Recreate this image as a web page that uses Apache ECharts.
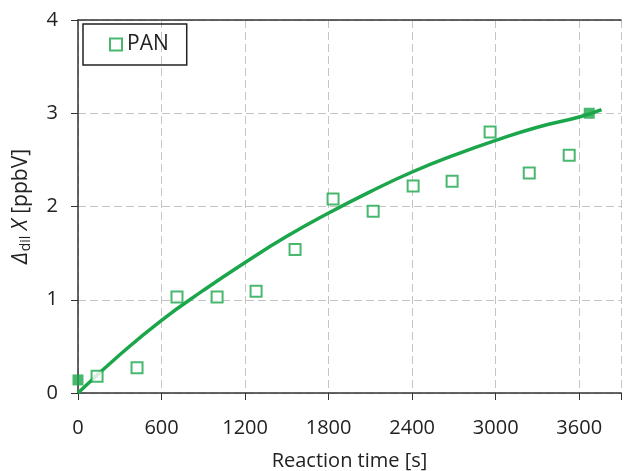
<!DOCTYPE html>
<html>
<head>
<meta charset="utf-8">
<script src="https://cdn.jsdelivr.net/npm/echarts@6/dist/echarts.min.js"></script>
<style>
html, body { margin: 0; padding: 0; background: #fff; }
#main { width: 624px; height: 471px; }
</style>
</head>
<body>
<div id="main"></div>
<script>
// measured PAN points (time [s], ppbV)
const panTime = [137, 424, 711, 999, 1279, 1559, 1832, 2120, 2407, 2687, 2960, 3241, 3528]
const panValue = [0.18, 0.27, 1.03, 1.03, 1.09, 1.54, 2.08, 1.95, 2.22, 2.27, 2.80, 2.36, 2.55]

// filled end points
const endTime = [0, 3672]
const endValue = [0.14, 3.0]

// fitted curve
const fitTime = [0, 300, 600, 900, 1200, 1500, 1800, 2100, 2400, 2700, 3000, 3300, 3600, 3760]
const fitValue = [0, 0.41, 0.78, 1.10, 1.40, 1.68, 1.93, 2.16, 2.37, 2.55, 2.71, 2.85, 2.96, 3.04]

const green = '#1ba64b'
const font = 'Open Sans'

const pair = (xs, ys) => xs.map((x, i) => [x, ys[i]])

const chart = echarts.init(document.getElementById('main'))

const option = {
    backgroundColor: '#fff',
    animation: false,
    textStyle: { fontFamily: font },
    grid: { left: 78, right: 3, top: 20, bottom: 78, outerBoundsMode: 'none' },
    legend: {
        left: 83, top: 24,
        padding: [10, 18, 10, 26],
        itemWidth: 12, itemHeight: 12,
        itemGap: 10,
        borderColor: '#222', borderWidth: 1.5,
        textStyle: { fontSize: 21, color: '#222', fontFamily: font },
        data: [{ name: 'PAN', icon: 'rect' }]
    },
    xAxis: [{
        type: 'value',
        min: 0, max: 3900, interval: 600,
        name: 'Reaction time [s]',
        nameLocation: 'middle',
        nameGap: 58,
        nameTextStyle: { fontSize: 20, color: '#222' },
        axisLine: { lineStyle: { color: '#333', width: 1.5 } },
        axisTick: { inside: false, length: 7, lineStyle: { color: '#333' } },
        axisLabel: {
            fontSize: 20, color: '#222', margin: 25,
            formatter: v => (v % 600 === 0 && v <= 3600) ? String(v) : ''
        },
        splitLine: { show: true, lineStyle: { color: '#c4c4c4', type: [8, 4] } }
    }, {
        type: 'value', position: 'top', min: 0, max: 3900,
        axisLine: { show: true, onZero: false, lineStyle: { color: '#333', width: 1.5 } },
        axisTick: { show: false }, axisLabel: { show: false }, splitLine: { show: false }
    }],
    yAxis: {
        type: 'value',
        min: 0, max: 4, interval: 1,
        name: '{i|Δ}{s|dil} {i|X} {n|[ppbV]}',
        nameLocation: 'middle',
        nameGap: 45,
        nameTextStyle: {
            fontSize: 21, color: '#222',
            rich: {
                i: { fontSize: 21, fontStyle: 'italic', color: '#222', fontFamily: font },
                s: { fontSize: 14, color: '#222', fontFamily: font, padding: [10, 0, 0, 1] },
                n: { fontSize: 21, color: '#222', fontFamily: font }
            }
        },
        axisLine: { show: true, lineStyle: { color: '#333', width: 1.5 } },
        axisTick: { show: true, length: 7, lineStyle: { color: '#333' } },
        axisLabel: { fontSize: 20, color: '#222', margin: 20 },
        splitLine: { show: true, lineStyle: { color: '#c4c4c4', type: [8, 4] } }
    },
    series: [
        {
            name: 'fit',
            type: 'line',
            smooth: true,
            showSymbol: false,
            lineStyle: { color: green, width: 3.5 },
            data: pair(fitTime, fitValue),
            z: 3
        },
        {
            name: 'PAN',
            type: 'scatter',
            symbol: 'rect',
            symbolSize: 11,
            itemStyle: { color: '#fff', borderColor: green, borderWidth: 2 },
            data: pair(panTime, panValue),
            z: 4
        },
        {
            name: 'ends',
            type: 'scatter',
            symbol: 'rect',
            symbolSize: 11,
            itemStyle: { color: green },
            data: pair(endTime, endValue),
            z: 4
        }
    ]
}

chart.setOption(option)
</script>
</body>
</html>
